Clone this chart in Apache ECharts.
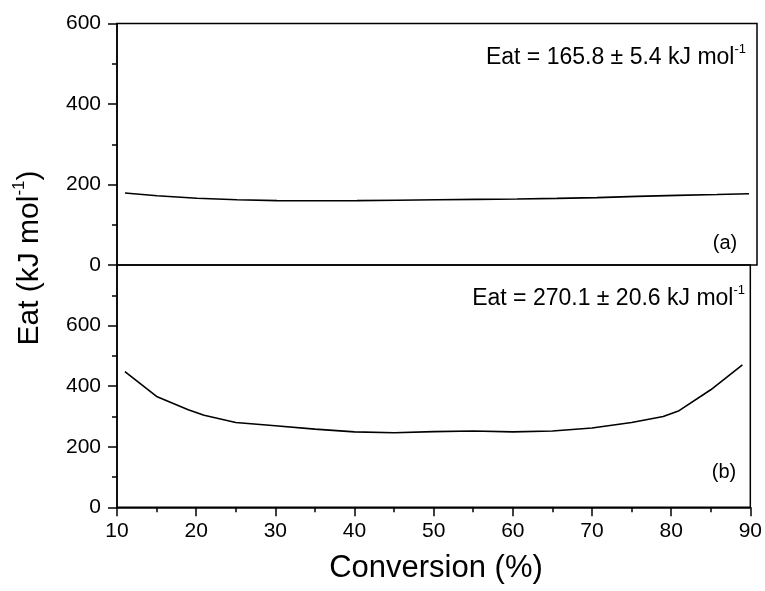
<!DOCTYPE html>
<html>
<head>
<meta charset="utf-8">
<script src="https://cdn.jsdelivr.net/npm/echarts@6/dist/echarts.min.js"></script>
<style>html,body{margin:0;padding:0;background:#fff}#c{width:765px;height:591px}</style>
</head>
<body>
<div id="c"></div>
<script>
var convA = [11, 15, 20, 25, 30, 35, 40, 45, 50, 55, 60, 65, 70, 75, 80, 85, 89];
var eatA  = [179, 172, 166, 162, 160, 159.5, 160, 161, 162, 163, 164, 165.5, 167.5, 170.5, 173, 175, 177];
var convB = [11, 15, 19, 21, 25, 30, 35, 40, 45, 50, 55, 60, 65, 70, 75, 79, 81, 85, 89];
var eatB  = [448, 366, 322, 304, 280, 269, 258, 249, 246, 250, 252, 249, 252, 262, 280, 300, 319, 388, 470];
var xTicks = [10, 20, 30, 40, 50, 60, 70, 80, 90];
var labelA = 'Eat = 165.8 \u00b1 5.4 kJ mol';
var labelB = 'Eat = 270.1 \u00b1 20.6 kJ mol';
var yTitle = 'Eat (kJ mol';
var xTitle = 'Conversion (%)';

var FONT = '"Liberation Sans", Arial, sans-serif';
var chart = echarts.init(document.getElementById('c'), null, {renderer: 'canvas'});

function pairs(xs, ys) { return xs.map(function (x, i) { return [x, ys[i]]; }); }

var axisLine = {show: true, lineStyle: {color: '#000', width: 1.5}};
var yCommon = {
  type: 'value', interval: 200, min: 0,
  axisLine: axisLine,
  axisTick: {show: true, length: 9, inside: false, lineStyle: {color: '#000', width: 1.5}},
  minorTick: {show: true, splitNumber: 2, length: 5, lineStyle: {color: '#000', width: 1.5}},
  splitLine: {show: false},
  axisLabel: {color: '#000', fontSize: 21, fontFamily: FONT, margin: 16}
};

var option = {
  animation: false,
  backgroundColor: '#fff',
  grid: [
    {left: 117, right: 8, top: 23.5, height: 241.5, show: true, borderColor: '#000', borderWidth: 1.5, backgroundColor: 'transparent'},
    {left: 117, right: 8, top: 265, height: 242.3, show: true, borderColor: '#000', borderWidth: 1.5, backgroundColor: 'transparent'}
  ],
  xAxis: [
    {gridIndex: 0, type: 'value', min: 10, max: 90, interval: 10,
     axisLine: {show: false}, axisTick: {show: false}, axisLabel: {show: false}, splitLine: {show: false}},
    {gridIndex: 1, type: 'value', min: 10, max: 90, interval: 10,
     axisLine: axisLine,
     axisTick: {show: true, length: 9, lineStyle: {color: '#000', width: 1.5}},
     minorTick: {show: true, splitNumber: 2, length: 5, lineStyle: {color: '#000', width: 1.5}},
     splitLine: {show: false},
     axisLabel: {color: '#000', fontSize: 21, fontFamily: FONT, margin: 13,
       formatter: function (v) { return xTicks.indexOf(v) >= 0 ? String(v) : ''; }}}
  ],
  yAxis: [
    Object.assign({}, yCommon, {gridIndex: 0, max: 600}),
    Object.assign({}, yCommon, {gridIndex: 1, max: 800,
      axisLabel: Object.assign({}, yCommon.axisLabel, {formatter: function (v) { return v === 800 ? '' : String(v); }})})
  ],
  series: [
    {type: 'line', xAxisIndex: 0, yAxisIndex: 0, data: pairs(convA, eatA), showSymbol: false, symbol: 'none',
     lineStyle: {color: '#000', width: 1.6}, silent: true},
    {type: 'line', xAxisIndex: 1, yAxisIndex: 1, data: pairs(convB, eatB), showSymbol: false, symbol: 'none',
     lineStyle: {color: '#000', width: 1.6}, silent: true}
  ],
  graphic: [
    {type: 'text', x: 746, y: 56, style: {
      text: '{a|' + labelA + '}{s|-1}', align: 'right', verticalAlign: 'middle',
      rich: {a: {fontSize: 23, fontFamily: FONT, fill: '#000', lineHeight: 26, verticalAlign: 'bottom'},
             s: {fontSize: 13, fontFamily: FONT, fill: '#000', lineHeight: 26, verticalAlign: 'top'}}}},
    {type: 'text', x: 745, y: 297, style: {
      text: '{a|' + labelB + '}{s|-1}', align: 'right', verticalAlign: 'middle',
      rich: {a: {fontSize: 23, fontFamily: FONT, fill: '#000', lineHeight: 26, verticalAlign: 'bottom'},
             s: {fontSize: 13, fontFamily: FONT, fill: '#000', lineHeight: 26, verticalAlign: 'top'}}}},
    {type: 'text', x: 725, y: 243, style: {text: '(a)', align: 'center', verticalAlign: 'middle', fontSize: 20, fontFamily: FONT, fill: '#000'}},
    {type: 'text', x: 724, y: 472, style: {text: '(b)', align: 'center', verticalAlign: 'middle', fontSize: 20, fontFamily: FONT, fill: '#000'}},
    {type: 'text', x: 436, y: 568, style: {text: xTitle, align: 'center', verticalAlign: 'middle', fontSize: 31, fontFamily: FONT, fill: '#000'}},
    {type: 'text', x: 28, y: 258, rotation: Math.PI / 2, style: {
      text: '{a|' + yTitle + '}{s|-1}{a|)}', align: 'center', verticalAlign: 'middle',
      rich: {a: {fontSize: 30, fontFamily: FONT, fill: '#000', lineHeight: 34, verticalAlign: 'bottom'},
             s: {fontSize: 17, fontFamily: FONT, fill: '#000', lineHeight: 34, verticalAlign: 'top'}}}}
  ]
};
chart.setOption(option);
</script>
</body>
</html>
